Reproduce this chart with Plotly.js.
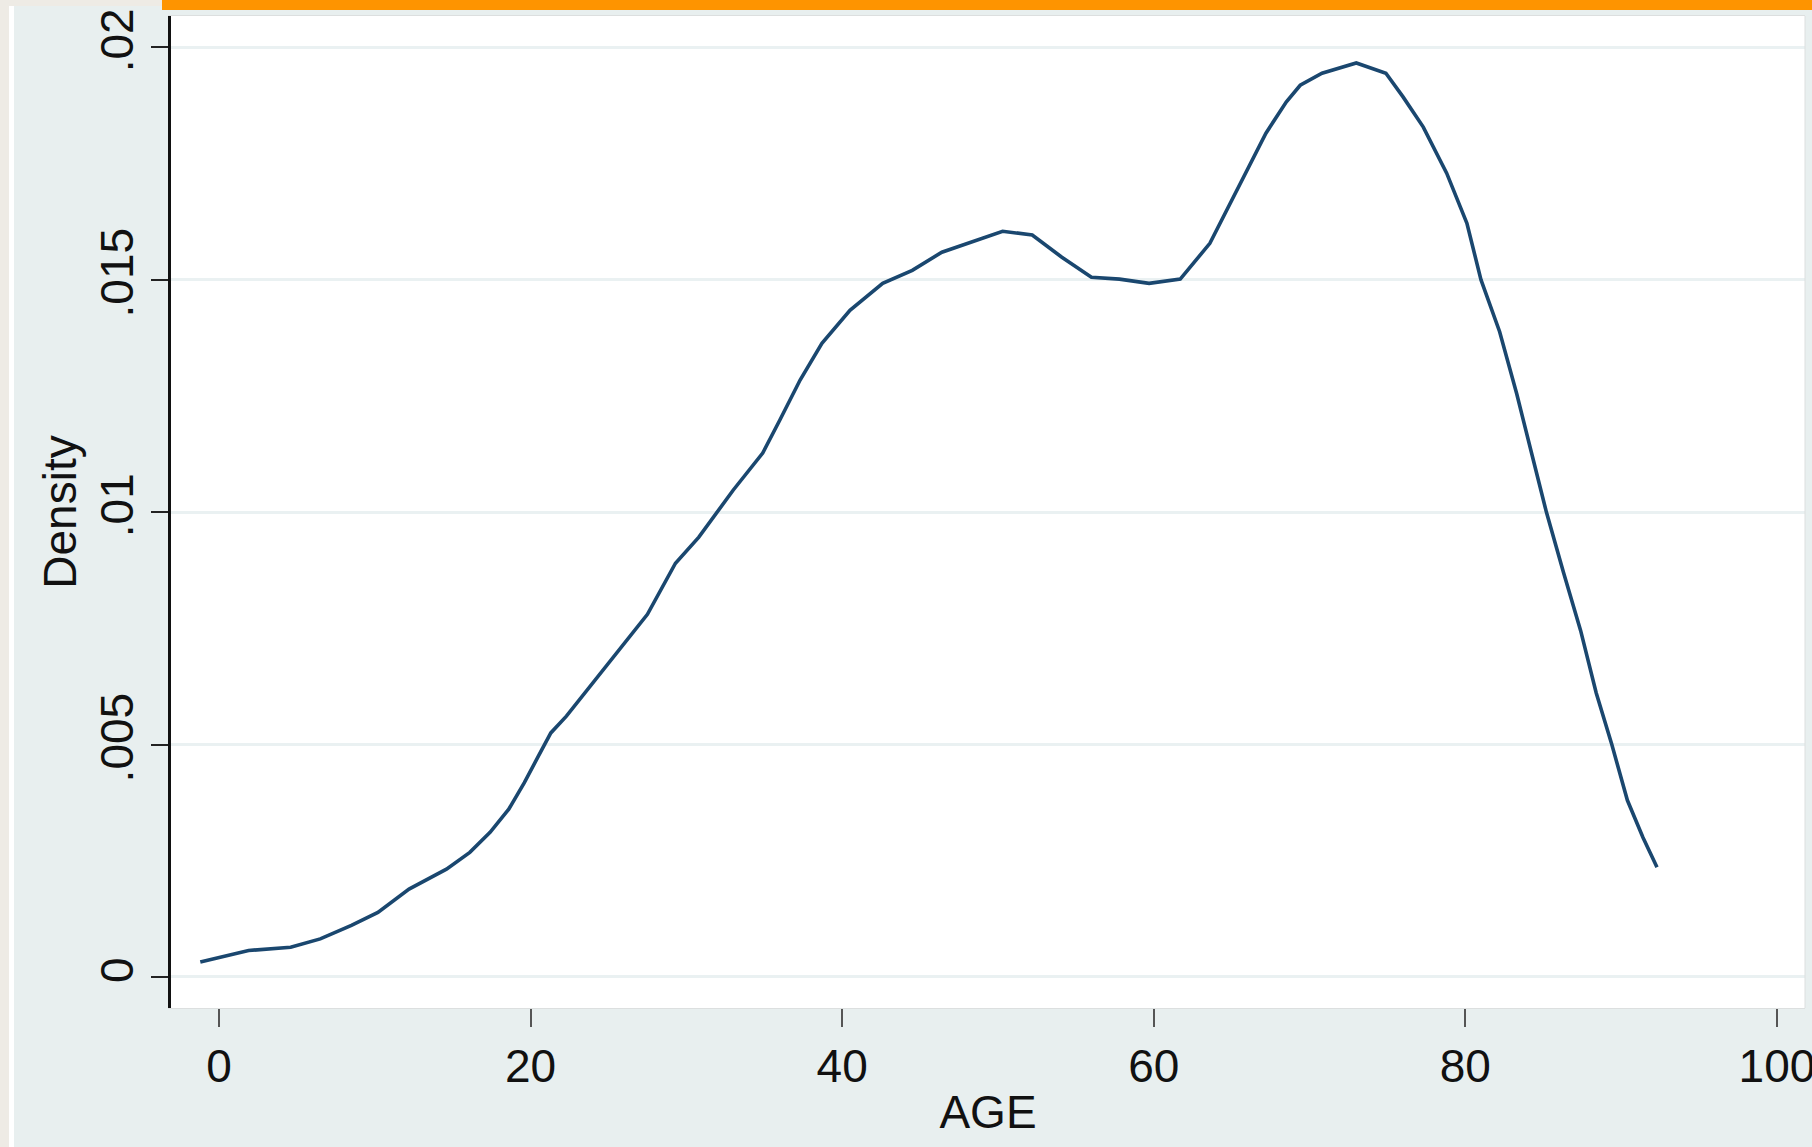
<!DOCTYPE html>
<html>
<head>
<meta charset="utf-8">
<script src="https://cdn.plot.ly/plotly-3.0.1.min.js"></script>
<style>
  html, body { margin: 0; padding: 0; background: #e8efef; overflow: hidden; }
  #wrap { position: relative; width: 1812px; height: 1147px; }
  #chart { position: absolute; left: 0; top: 0; width: 1812px; height: 1147px; }
  .ov { position: absolute; pointer-events: none; }
</style>
</head>
<body>
<div id="wrap">
  <div id="chart"></div>
  <div class="ov" style="left:0;top:0;width:9px;height:1147px;background:#eeebe5;"></div>
  <div class="ov" style="left:0;top:0;width:162px;height:6px;background:#eeebe5;"></div>
  <div class="ov" style="left:9px;top:6px;width:5px;height:1141px;background:#ffffff;"></div>
  <div class="ov" style="left:162px;top:0;width:1650px;height:10px;background:#fe9400;"></div>
</div>
<script>
// Kernel density of AGE
const age = [-1.2, 1.9, 4.6, 6.5, 8.5, 10.2, 12.2, 14.6, 16.1, 17.4, 18.6, 19.6, 20.5, 21.3, 22.3, 24.0, 25.7, 27.5, 29.3, 30.8,
             33.0, 34.9, 36.0, 37.3, 38.7, 40.5, 42.6, 44.5, 46.4, 48.6, 50.3, 52.2, 54.1, 56.0, 57.8, 59.7, 61.7, 63.6, 65.1, 66.2,
             67.2, 68.5, 69.4, 70.8, 73.0, 74.9, 76.0, 77.3, 78.8, 80.1, 81.0, 82.2, 83.3, 84.3, 85.2, 86.3, 87.4, 88.4, 89.4, 90.4,
             91.4, 92.3];
const density = [0.00032, 0.00057, 0.00064, 0.00082, 0.00111, 0.00139, 0.00189, 0.00232, 0.00268, 0.00311, 0.00361, 0.00418,
                 0.00475, 0.00525, 0.00561, 0.00632, 0.00704, 0.0078, 0.0089, 0.00946, 0.01047, 0.01127, 0.01198, 0.01284,
                 0.01363, 0.01434, 0.01492, 0.0152, 0.01559, 0.01585, 0.01604, 0.01596, 0.01548, 0.01505, 0.01501, 0.01492,
                 0.01501, 0.01578, 0.01677, 0.0175, 0.01815, 0.01882, 0.01918, 0.01944, 0.01966, 0.01944, 0.01893, 0.01828,
                 0.01729, 0.01621, 0.015, 0.01388, 0.01254, 0.0112, 0.0100, 0.0087, 0.00745, 0.00611, 0.005, 0.0038,
                 0.0030, 0.00236];
const xTickVals = [0, 20, 40, 60, 80, 100];
const xTickText = ["0", "20", "40", "60", "80", "100"];
const yTickVals = [0, 0.005, 0.01, 0.015, 0.02];
const yTickText = ["0", ".005", ".01", ".015", ".02"];

const FONT = "Liberation Sans, Arial, Helvetica, sans-serif";

const trace = {
  x: age, y: density, type: "scatter", mode: "lines",
  line: { color: "#1a476f", width: 3.6 },
  hoverinfo: "skip"
};

const layout = {
  width: 1812, height: 1147,
  margin: { l: 171, r: 7, t: 16, b: 139, pad: 0 },
  paper_bgcolor: "#e8efef",
  plot_bgcolor: "#ffffff",
  showlegend: false,
  font: { family: FONT, size: 46, color: "#111111" },
  xaxis: {
    range: [-3.08, 101.8], fixedrange: true,
    tickmode: "array", tickvals: xTickVals, ticktext: xTickText,
    ticklabeloverflow: "allow",
    ticks: "outside", ticklen: 18, tickwidth: 2, tickcolor: "#555555",
    showgrid: false, zeroline: false,
    showline: true, linecolor: "#dcdfdf", linewidth: 1, mirror: true,
    tickfont: { family: FONT, size: 46, color: "#111111" },
    title: { text: "AGE", font: { family: FONT, size: 46, color: "#111111" }, standoff: 4 }
  },
  yaxis: {
    range: [-0.000667, 0.02067], fixedrange: true,
    tickmode: "array", tickvals: yTickVals, ticktext: yTickText,
    ticks: "outside", ticklen: 17, tickwidth: 2, tickcolor: "#222222",
    tickangle: -90,
    showgrid: true, gridcolor: "#eaf1f2", gridwidth: 3,
    zeroline: false,
    showline: true, linecolor: "#111111", linewidth: 3,
    tickfont: { family: FONT, size: 46, color: "#111111" },
    title: { text: "Density", font: { family: FONT, size: 46, color: "#111111" }, standoff: 0 }
  },
  shapes: [
    { type: "line", xref: "paper", yref: "paper", x0: 1, x1: 1, y0: 0, y1: 1,
      line: { color: "#dcdfdf", width: 1 } }
  ]
};

Plotly.newPlot("chart", [trace], layout, { staticPlot: true, displayModeBar: false });
</script>
</body>
</html>
